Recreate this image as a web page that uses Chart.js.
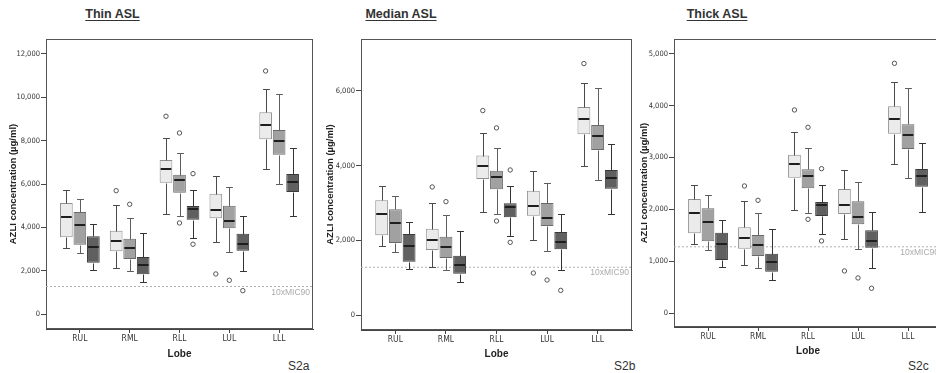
<!DOCTYPE html>
<html><head><meta charset="utf-8">
<script src="https://cdn.jsdelivr.net/npm/chart.js@4/dist/chart.umd.min.js"></script>
<style>
html,body{margin:0;padding:0;background:#fff;width:936px;height:373px;overflow:hidden}
body{position:relative}
canvas{position:absolute;top:0}
.ttl{position:absolute;top:8px;font:bold 12.5px 'Liberation Sans',Arial,sans-serif;line-height:1;color:#333;text-decoration:underline;text-underline-offset:2px;transform:translateX(-50%);white-space:nowrap}
.fig{position:absolute;top:360px;font:12px 'Liberation Sans Narrow','Liberation Sans',Arial,sans-serif;line-height:1;color:#333;white-space:nowrap}
</style></head><body>
<div class="ttl" style="left:112.5px">Thin ASL</div>
<div class="ttl" style="left:401px">Median ASL</div>
<div class="ttl" style="left:717px">Thick ASL</div>
<div class="fig" style="left:288px">S2a</div>
<div class="fig" style="left:614px">S2b</div>
<div class="fig" style="left:908px">S2c</div>
<canvas id="c1" width="320" height="373" style="left:0"></canvas>
<canvas id="c2" width="322" height="373" style="left:315px"></canvas>
<canvas id="c3" width="318" height="373" style="left:630px"></canvas>
<script>
// ---- data: [lower whisker, Q1, median, Q3, upper whisker] per lobe ----
const lobes = ['RUL', 'RML', 'RLL', 'LUL', 'LLL'];
const MIC = 1280;
const MIC_LABEL = '10xMIC90';

const thinA = [[3056,3550,4485,5131,5744],[2134,2904,3365,3855,5023],[4624,6067,6698,7113,8127],[3333,4426,4822,5560,6390],[6684,8067,8741,9312,10386]];
const thinB = [[2826,3209,4117,4716,5315],[1996,2549,3043,3485,4454],[4532,5606,6177,6436,7436],[2858,3965,4301,5006,5882],[6021,7358,8003,8496,10170]];
const thinC = [[2057,2380,3089,3596,4177],[1475,1844,2259,2642,3762],[3531,4361,4840,4993,5744],[1996,2932,3241,3716,4532],[4532,5638,6113,6468,7653]];
const thinOutA = [[], [5698], [9128], [1858], [11216]];
const thinOutB = [[], [5071], [8358, 4209], [1567], []];
const thinOutC = [[], [], [6482, 3227], [1088], []];
const thinTicks = [0, 2000, 4000, 6000, 8000, 10000, 12000];

const medA = [[1840,2135,2697,3072,3456],[1295,1741,2009,2313,3009],[2759,3643,4000,4268,4876],[2001,2661,2912,3330,3849],[4000,4841,5242,5572,6223]];
const medB = [[1688,1929,2465,2831,3197],[1206,1527,1822,2099,2688],[2706,3367,3705,3866,4465],[1715,2384,2590,3000,3528],[3625,4420,4804,5090,6081]];
const medC = [[1241,1429,1857,2170,2500],[893,1107,1340,1589,2250],[2125,2617,2885,2992,3464],[1206,1760,1956,2224,2714],[2714,3384,3678,3884,4581]];
const medOutA = [[], [3429], [5474], [1125], [6732]];
const medOutB = [[], [3036], [5010, 2518], [938], []];
const medOutC = [[], [], [3884, 1947], [661], []];
const medTicks = [0, 2000, 4000, 6000];

const thickA = [[1329,1541,1932,2201,2471],[936,1244,1444,1656,2157],[1984,2612,2875,3055,3492],[1437,1913,2086,2394,2754],[2870,3459,3748,3987,4449]];
const thickB = [[1219,1387,1764,2022,2284],[867,1104,1315,1508,1926],[1938,2407,2650,2773,3190],[1233,1714,1861,2157,2529],[2600,3164,3434,3640,4345]];
const thickC = [[892,1027,1335,1552,1791],[647,801,982,1148,1618],[1522,1874,2092,2144,2477],[867,1264,1398,1599,1945],[1945,2438,2639,2779,3274]];
const thickOutA = [[], [2452], [3916], [815], [4815]];
const thickOutB = [[], [2176], [3582, 1810], [680], []];
const thickOutC = [[], [], [2785, 1393], [481], []];
const thickTicks = [0, 1000, 2000, 3000, 4000, 5000];

// ---- styles ----
const SANS = "'Liberation Sans', Arial, sans-serif";
const NARROW = "'Liberation Sans Narrow', 'Arial Narrow', 'DejaVu Sans Condensed', 'Liberation Sans', sans-serif";
const STYLE = [
  {fill: '#ebebeb', border: '#8f8f8f', whisker: '#4a4a4a'},
  {fill: '#a1a1a1', border: '#6a6a6a', whisker: '#5e5e5e'},
  {fill: '#606060', border: '#3a3a3a', whisker: '#333333'}
];
const X_MIN = -0.68, X_MAX = 4.68;

const framePlugin = {
  id: 'frame',
  beforeDatasetsDraw(chart) {
    const {ctx, chartArea: a} = chart;
    ctx.save();
    ctx.strokeStyle = '#555'; ctx.lineWidth = 1;
    ctx.strokeRect(Math.round(a.left) + 0.5, Math.round(a.top) + 0.5, Math.round(a.right - a.left) - 1, Math.round(a.bottom - a.top) - 1);
    ctx.restore();
  }
};

const boxPlugin = {
  id: 'boxExtras',
  afterDatasetsDraw(chart) {
    const {ctx, chartArea: a} = chart;
    const ys = chart.scales.y;
    const py = v => Math.round(ys.getPixelForValue(v)) + 0.5;
    ctx.save();
    chart.data.datasets.forEach((ds, di) => {
      if (!ds.stats) return;
      const meta = chart.getDatasetMeta(di);
      meta.data.forEach((bar, i) => {
        const s = ds.stats[i];
        const x = Math.round(bar.x) + 0.5;
        const w = bar.width;
        ctx.strokeStyle = ds.whiskerColor; ctx.lineWidth = 1;
        ctx.beginPath();
        ctx.moveTo(x, py(s[4])); ctx.lineTo(x, py(s[3]));
        ctx.moveTo(x, py(s[1])); ctx.lineTo(x, py(s[0]));
        ctx.moveTo(x - w * 0.27, py(s[4])); ctx.lineTo(x + w * 0.27, py(s[4]));
        ctx.moveTo(x - w * 0.27, py(s[0])); ctx.lineTo(x + w * 0.27, py(s[0]));
        ctx.stroke();
        // median
        ctx.strokeStyle = '#1e1e1e'; ctx.lineWidth = 2;
        const my = Math.round(ys.getPixelForValue(s[2]));
        ctx.beginPath();
        ctx.moveTo(bar.x - w / 2 + 1, my); ctx.lineTo(bar.x + w / 2 - 1, my);
        ctx.stroke();
        // outliers
        ctx.strokeStyle = '#555'; ctx.lineWidth = 1; ctx.fillStyle = '#fff';
        (ds.outliers[i] || []).forEach(v => {
          ctx.beginPath();
          ctx.arc(bar.x, ys.getPixelForValue(v), 2.2, 0, Math.PI * 2);
          ctx.fill(); ctx.stroke();
        });
      });
    });
    // reference label
    const ly = ys.getPixelForValue(MIC);
    ctx.font = '8.5px ' + SANS;
    ctx.fillStyle = '#ababab';
    ctx.textAlign = 'right'; ctx.textBaseline = 'top';
    ctx.fillText(MIC_LABEL, a.right - 3, ly + 1.5);
    ctx.restore();
  }
};

function makePanel(id, cfg) {
  const sets = [cfg.A, cfg.B, cfg.C];
  const outs = [cfg.outA, cfg.outB, cfg.outC];
  const datasets = sets.map((stats, k) => ({
    type: 'bar',
    label: 'Group ' + (k + 1),
    data: stats.map((v, i) => ({x: i, y: [v[1], v[3]]})),
    backgroundColor: STYLE[k].fill,
    borderColor: STYLE[k].border,
    borderWidth: 1,
    borderSkipped: false,
    categoryPercentage: 0.813,
    barPercentage: 0.94,
    stats: stats,
    outliers: outs[k],
    whiskerColor: STYLE[k].whisker,
    order: 0
  }));
  datasets.push({
    type: 'line',
    label: MIC_LABEL,
    data: [{x: X_MIN, y: MIC}, {x: X_MAX, y: MIC}],
    borderColor: '#b0b0b0',
    borderWidth: 1,
    borderDash: [2, 2],
    pointRadius: 0,
    order: 1
  });
  new Chart(document.getElementById(id), {
    type: 'bar',
    data: {datasets},
    plugins: [framePlugin, boxPlugin],
    options: {
      responsive: false,
      animation: false,
      devicePixelRatio: 1,
      layout: {padding: {left: 0, top: 39, right: cfg.padR, bottom: 0}},
      plugins: {legend: {display: false}, tooltip: {enabled: false}, title: {display: false}},
      scales: {
        x: {
          type: 'linear', min: X_MIN, max: X_MAX, offset: false,
          afterBuildTicks: s => { s.ticks = lobes.map((_, i) => ({value: i})); },
          afterFit: s => { s.height = cfg.xH; },
          grid: {drawOnChartArea: false, drawTicks: true, tickLength: 4, color: '#444', offset: false},
          border: {display: true, color: '#444', width: 1},
          ticks: {callback: v => lobes[v], padding: 1, font: {family: NARROW, size: 8.5}, color: '#333', maxRotation: 0, autoSkip: false},
          title: {display: true, text: 'Lobe', font: {family: SANS, size: 10, weight: 'bold'}, color: '#222', padding: {top: 0, bottom: cfg.lobePad}}
        },
        y: {
          type: 'linear', min: cfg.yMin, max: cfg.yMax,
          afterBuildTicks: s => { s.ticks = cfg.ticks.map(v => ({value: v})); },
          afterFit: s => { s.width = cfg.yW; },
          grid: {drawOnChartArea: false, drawTicks: true, tickLength: 5, color: '#444'},
          border: {display: true, color: '#444', width: 1},
          ticks: {callback: v => v.toLocaleString('en-US'), padding: 1, font: {family: NARROW, size: 7.5}, color: '#333'},
          title: {display: true, text: 'AZLI concentration (µg/ml)', font: {family: SANS, size: 9.5, weight: 'bold'}, color: '#222', padding: {top: cfg.titlePad, bottom: 0}}
        }
      }
    }
  });
}

makePanel('c1', {A: thinA, B: thinB, C: thinC, outA: thinOutA, outB: thinOutB, outC: thinOutC, ticks: thinTicks,
  yMin: -680, yMax: 12690, yW: 46, xH: 44, padR: 7, titlePad: 8, lobePad: 13});
makePanel('c2', {A: medA, B: medB, C: medC, outA: medOutA, outB: medOutB, outC: medOutC, ticks: medTicks,
  yMin: -400, yMax: 7390, yW: 46, xH: 43, padR: 5, titlePad: 9.3, lobePad: 13});
makePanel('c3', {A: thickA, B: thickB, C: thickC, outA: thickOutA, outB: thickOutB, outC: thickOutC, ticks: thickTicks,
  yMin: -265, yMax: 5283, yW: 44, xH: 46, padR: 6, titlePad: 8.3, lobePad: 15.6});
</script>
</body></html>
